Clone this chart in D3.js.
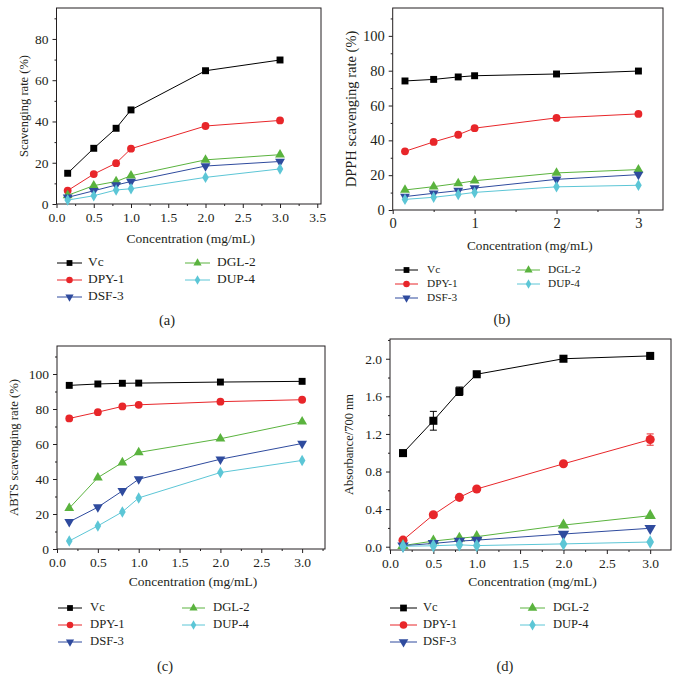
<!DOCTYPE html>
<html><head><meta charset="utf-8">
<script src="https://cdn.jsdelivr.net/npm/d3@7/dist/d3.min.js"></script>
<style>body{margin:0;background:#fff}svg{display:block}text{font-family:"Liberation Serif","DejaVu Serif",serif;fill:#231f20}</style>
</head><body><svg id="c" width="680" height="694"></svg>
<script>
// ---- data ----
const concentration = [0.15, 0.5, 0.8, 1.0, 2.0, 3.0];
const seriesNames = ["Vc", "DPY-1", "DGL-2", "DSF-3", "DUP-4"];
const legendCol1 = ["Vc", "DPY-1", "DSF-3"];
const legendCol2 = ["DGL-2", "DUP-4"];

// (a) hydroxyl radical scavenging rate (%)
const aVc   = [14.9, 27.0, 36.7, 45.6, 64.6, 69.8];
const aDPY1 = [6.5, 14.5, 19.8, 26.8, 37.8, 40.5];
const aDGL2 = [4.2, 8.9, 10.9, 13.7, 21.4, 23.9];
const aDSF3 = [3.2, 6.4, 9.2, 10.9, 18.4, 20.6];
const aDUP4 = [1.9, 4.0, 6.8, 7.4, 12.9, 17.0];

// (b) DPPH scavenging rate (%)
const bVc   = [74.1, 75.0, 76.4, 77.1, 78.1, 79.8];
const bDPY1 = [33.7, 39.1, 43.2, 47.0, 52.9, 55.2];
const bDGL2 = [11.5, 13.4, 15.3, 16.8, 21.3, 23.2];
const bDSF3 = [7.7, 9.6, 11.1, 12.6, 17.6, 20.3];
const bDUP4 = [6.1, 7.3, 8.9, 10.1, 13.3, 14.2];

// (c) ABTS scavenging rate (%)
const cVc   = [93.5, 94.3, 94.7, 94.8, 95.4, 95.8];
const cDPY1 = [74.6, 78.2, 81.5, 82.4, 84.2, 85.3];
const cDGL2 = [23.3, 40.8, 49.4, 55.2, 63.0, 72.7];
const cDSF3 = [15.5, 23.9, 33.2, 39.9, 51.3, 60.3];
const cDUP4 = [4.6, 13.2, 21.2, 29.2, 43.7, 50.6];

// (d) reducing power, absorbance at 700 nm
const dVc   = [0.996, 1.34, 1.654, 1.835, 2.00, 2.03];
const dDPY1 = [0.07, 0.34, 0.525, 0.614, 0.882, 1.14];
const dDGL2 = [0.012, 0.06, 0.09, 0.107, 0.23, 0.33];
const dDSF3 = [0.01, 0.035, 0.06, 0.07, 0.135, 0.196];
const dDUP4 = [0.005, 0.01, 0.02, 0.012, 0.03, 0.05];
const dVcErr   = [0.01, 0.10, 0.045, 0.015, 0.01, 0.01];
const dDPY1Err = [0.005, 0.01, 0.01, 0.01, 0.01, 0.06];

// tick labels
const ticksA_x = [0, 0.5, 1.0, 1.5, 2.0, 2.5, 3.0, 3.5];
const ticksA_y = [0, 20, 40, 60, 80];
const ticksB_x = [0, 1, 2, 3];
const ticksBC_y = [0, 20, 40, 60, 80, 100];
const ticksCD_x = [0, 0.5, 1.0, 1.5, 2.0, 2.5, 3.0];
const ticksD_y = [0, 0.4, 0.8, 1.2, 1.6, 2.0];

const yTitles = ["Scavenging rate (%)", "DPPH scavenging rate (%)", "ABTS scavenging rate (%)", "Absorbance/700 nm"];
const xTitle = "Concentration (mg/mL)";
const captions = ["(a)", "(b)", "(c)", "(d)"];

// ---- styles ----
const colors = {"Vc": "#000000", "DPY-1": "#e8262a", "DGL-2": "#5ab33e", "DSF-3": "#2f4b9e", "DUP-4": "#5cc6d6"};
const symbols = {"Vc": d3.symbolSquare, "DPY-1": d3.symbolCircle, "DGL-2": d3.symbolTriangle, "DSF-3": d3.symbolTriangle, "DUP-4": d3.symbolDiamond};
const rot = {"Vc": 0, "DPY-1": 0, "DGL-2": 0, "DSF-3": 180, "DUP-4": 0};
const symSize = {"Vc": 48, "DPY-1": 48, "DGL-2": 42, "DSF-3": 42, "DUP-4": 38};

const panels = [
  {L: 56.5, R: 321, T: 8, B: 204, xd: [0, 3.55], yd: [0, 95], xt: ticksA_x, xf: ".1f", xm: 0.25, yt: ticksA_y, yf: "d", ym: 10,
   data: {"Vc": aVc, "DPY-1": aDPY1, "DGL-2": aDGL2, "DSF-3": aDSF3, "DUP-4": aDUP4}, err: null,
   tfs: 13.5, yfs: 12.5, xfs: 13.5,
   yTitleX: 25, xTitleY: 240, leg: {y: [263, 280, 297], c1: [57, 82, 88], c2: [185, 210, 217], fs: 13.4}, cap: [167, 322], ms: 1},
  {L: 392.7, R: 663, T: 8, B: 210, xd: [0, 3.3], yd: [0, 116], xt: ticksB_x, xf: "d", xm: 0.5, yt: ticksBC_y, yf: "d", ym: 10,
   data: {"Vc": bVc, "DPY-1": bDPY1, "DGL-2": bDGL2, "DSF-3": bDSF3, "DUP-4": bDUP4}, err: null,
   tfs: 14.5, yfs: 14.5, xfs: 13.2,
   yTitleX: 353, xTitleY: 247, leg: {y: [270, 284, 298], c1: [395, 418, 427], c2: [517, 540, 548], fs: 11.3}, cap: [502, 321], ms: 1},
  {L: 57, R: 325, T: 346, B: 549, xd: [0, 3.28], yd: [0, 116], xt: ticksCD_x, xf: ".1f", xm: 0.25, yt: ticksBC_y, yf: "d", ym: 10,
   data: {"Vc": cVc, "DPY-1": cDPY1, "DGL-2": cDGL2, "DSF-3": cDSF3, "DUP-4": cDUP4}, err: null,
   tfs: 13.5, yfs: 12.7, xfs: 13.5,
   yTitleX: 15, xTitleY: 583, leg: {y: [608, 625, 642], c1: [58, 82, 90], c2: [182, 205, 213], fs: 12.7}, cap: [165, 668], ms: 1},
  {L: 390, R: 671, T: 339, B: 550, xd: [0, 3.24], yd: [-0.035, 2.21], xt: ticksCD_x, xf: ".1f", xm: 0.25, yt: ticksD_y, yf: ".1f", ym: 0.2,
   data: {"Vc": dVc, "DPY-1": dDPY1, "DGL-2": dDGL2, "DSF-3": dDSF3, "DUP-4": dDUP4}, err: {"Vc": dVcErr, "DPY-1": dDPY1Err},
   tfs: 13.5, yfs: 12.5, xfs: 13.5,
   yTitleX: 350, xTitleY: 583, leg: {y: [608, 625, 642], c1: [390, 417, 423], c2: [520, 545, 553], fs: 12.5}, cap: [505, 668], ms: 1.35}
];

const svg = d3.select("#c");

function sym(name, k) {
  return d3.symbol().type(symbols[name]).size(symSize[name] * k)();
}

panels.forEach((p, i) => {
  const g = svg.append("g");
  const x = d3.scaleLinear().domain(p.xd).range([p.L, p.R]);
  const y = d3.scaleLinear().domain(p.yd).range([p.B, p.T]);

  // frame
  g.append("rect").attr("x", p.L).attr("y", p.T).attr("width", p.R - p.L).attr("height", p.B - p.T)
    .attr("fill", "none").attr("stroke", "#231f20").attr("stroke-width", 1);

  // x axis
  const xAx = d3.axisBottom(x).tickValues(p.xt).tickFormat(d3.format(p.xf)).tickSize(4).tickPadding(4);
  g.append("g").attr("transform", `translate(0,${p.B})`).call(xAx);
  const xMinor = d3.range(p.xd[0], p.xd[1] + 1e-9, p.xm).filter(v => !p.xt.some(t => Math.abs(t - v) < 1e-6));
  g.append("g").attr("transform", `translate(0,${p.B})`).call(d3.axisBottom(x).tickValues(xMinor).tickSize(2).tickFormat(""));

  // y axis
  const yAx = d3.axisLeft(y).tickValues(p.yt).tickFormat(d3.format(p.yf)).tickSize(4).tickPadding(4);
  g.append("g").attr("transform", `translate(${p.L},0)`).call(yAx);
  const yMinor = d3.range(0, p.yd[1] + 1e-9, p.ym).filter(v => !p.yt.some(t => Math.abs(t - v) < 1e-6));
  g.append("g").attr("transform", `translate(${p.L},0)`).call(d3.axisLeft(y).tickValues(yMinor).tickSize(2).tickFormat(""));

  g.selectAll(".domain").remove();
  g.selectAll(".tick line").attr("stroke", "#231f20");
  g.selectAll(".tick text").attr("font-size", p.tfs).attr("font-family", "Liberation Serif").attr("fill", "#231f20");

  // titles
  g.append("text").attr("x", (p.L + p.R) / 2 + 2).attr("y", p.xTitleY).attr("text-anchor", "middle")
    .attr("dominant-baseline", "middle").attr("font-size", p.xfs).text(xTitle);
  g.append("text").attr("transform", `translate(${p.yTitleX},${(p.T + p.B) / 2}) rotate(-90)`).attr("text-anchor", "middle")
    .attr("dominant-baseline", "middle").attr("font-size", p.yfs).text(yTitles[i]);

  // series
  seriesNames.forEach(name => {
    const vals = p.data[name];
    const pts = concentration.map((c, j) => [x(c), y(vals[j])]);
    g.append("path").attr("d", d3.line()(pts)).attr("fill", "none").attr("stroke", colors[name]).attr("stroke-width", 1);
    if (p.err && p.err[name]) {
      const e = p.err[name];
      concentration.forEach((c, j) => {
        const cx = x(c), y1 = y(vals[j] - e[j]), y2 = y(vals[j] + e[j]);
        g.append("path").attr("d", `M${cx},${y1}V${y2}M${cx - 3.5},${y1}H${cx + 3.5}M${cx - 3.5},${y2}H${cx + 3.5}`)
          .attr("stroke", colors[name]).attr("stroke-width", 1).attr("fill", "none");
      });
    }
    g.selectAll(null).data(pts).enter().append("path")
      .attr("d", sym(name, p.ms))
      .attr("transform", d => `translate(${d[0]},${d[1]}) rotate(${rot[name]})`)
      .attr("fill", colors[name]);
  });

  // legend
  const drawLeg = (names, col) => {
    names.forEach((name, r) => {
      const ly = p.leg.y[r];
      g.append("line").attr("x1", col[0]).attr("x2", col[1]).attr("y1", ly).attr("y2", ly)
        .attr("stroke", colors[name]).attr("stroke-width", 1);
      g.append("path").attr("d", sym(name, p.ms * 0.7))
        .attr("transform", `translate(${(col[0] + col[1]) / 2},${ly}) rotate(${rot[name]})`).attr("fill", colors[name]);
      g.append("text").attr("x", col[2]).attr("y", ly).attr("dominant-baseline", "middle")
        .attr("font-size", p.leg.fs).text(name);
    });
  };
  drawLeg(legendCol1, p.leg.c1);
  drawLeg(legendCol2, p.leg.c2);

  g.append("text").attr("x", p.cap[0]).attr("y", p.cap[1]).attr("text-anchor", "middle")
    .attr("dominant-baseline", "middle").attr("font-size", 14.5).text(captions[i]);
});
</script></body></html>
